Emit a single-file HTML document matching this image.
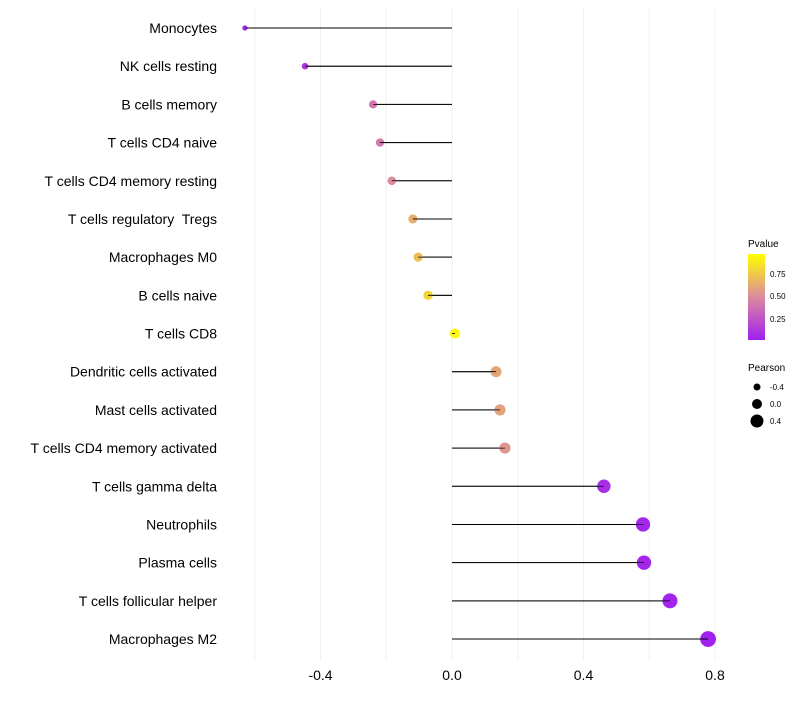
<!DOCTYPE html>
<html><head><meta charset="utf-8"><style>
body{margin:0;background:#fff;font-family:"Liberation Sans",sans-serif}
svg text{font-family:"Liberation Sans",sans-serif;white-space:pre}
</style></head><body>
<svg id="c" width="800" height="700">
<defs><linearGradient id="pg" x1="0" y1="1" x2="0" y2="0">
<stop offset="0" stop-color="#a020f0"/><stop offset="0.5" stop-color="#dc8a9e"/><stop offset="1" stop-color="#ffff00"/>
</linearGradient></defs>
<g id="grid"></g><g id="marks"></g><g id="labels"></g><g id="xt"></g>
<g>
<text x="748" y="247" font-size="10">Pvalue</text>
<rect x="748" y="254" width="17" height="86" fill="url(#pg)"/>
<text x="770" y="277" font-size="8">0.75</text>
<text x="770" y="299" font-size="8">0.50</text>
<text x="770" y="322" font-size="8">0.25</text>
</g>
<g>
<text x="748" y="371" font-size="10">Pearson</text>
<circle cx="757" cy="387" r="3.5"/><text x="770" y="390" font-size="8">-0.4</text>
<circle cx="757" cy="404" r="5"/><text x="770" y="407" font-size="8">0.0</text>
<circle cx="757" cy="421" r="6.5"/><text x="770" y="424" font-size="8">0.4</text>
</g>
</svg>
<script>
const cells=["Monocytes","NK cells resting","B cells memory","T cells CD4 naive","T cells CD4 memory resting","T cells regulatory  Tregs","Macrophages M0","B cells naive","T cells CD8","Dendritic cells activated","Mast cells activated","T cells CD4 memory activated","T cells gamma delta","Neutrophils","Plasma cells","T cells follicular helper","Macrophages M2"];
const pearson=[-0.63,-0.447,-0.24,-0.219,-0.183,-0.119,-0.103,-0.073,0.009,0.134,0.146,0.161,0.462,0.581,0.584,0.663,0.779];
const pvalue=[0.05,0.1,0.4,0.42,0.5,0.65,0.72,0.82,0.97,0.62,0.6,0.55,0.07,0.03,0.03,0.02,0.01];
const xticks=[-0.4,0,0.4,0.8];
const xtickLabels=["-0.4","0.0","0.4","0.8"];
const gridVals=[-0.6,-0.4,-0.2,0,0.2,0.4,0.6,0.8];
const NS="http://www.w3.org/2000/svg";
const X=v=>452+v*328.75, Y=i=>28+i*38.19;
function mk(t,a,p){const e=document.createElementNS(NS,t);for(const k in a)e.setAttribute(k,a[k]);document.getElementById(p).appendChild(e);return e;}
function lerp(a,b,t){return a.map((x,i)=>Math.round(x+(b[i]-x)*t));}
function col(p){const c0=[160,32,240],c1=[220,138,158],c2=[255,255,0];const c=p<0.5?lerp(c0,c1,p/0.5):lerp(c1,c2,(p-0.5)/0.5);return `rgb(${c})`;}
gridVals.forEach(v=>{const l=mk('line',{x1:X(v),x2:X(v),y1:8,y2:660,stroke:'#f0f0f0','stroke-width':1},'grid');

});
cells.forEach((c,i)=>{
const t=mk('text',{x:217,y:Y(i)+5,'font-size':14,'text-anchor':'end'},'labels');t.textContent=c;


const l=mk('line',{x1:X(0),x2:X(pearson[i]),y1:Y(i),y2:Y(i),stroke:'#000','stroke-width':1},'marks');


const d=mk('circle',{cx:X(pearson[i]),cy:Y(i),r:Math.max(1.5,5+3.75*pearson[i]),fill:col(pvalue[i])},'marks');


const s=mk('line',{x1:X(0),x2:X(pearson[i]),y1:Y(i),y2:Y(i),stroke:'#000','stroke-width':0.8},'marks');


});
xticks.forEach((v,i)=>{const t=mk('text',{x:X(v),y:680,'font-size':14,'text-anchor':'middle'},'xt');t.textContent=xtickLabels[i];

});
</script>
</body></html>
